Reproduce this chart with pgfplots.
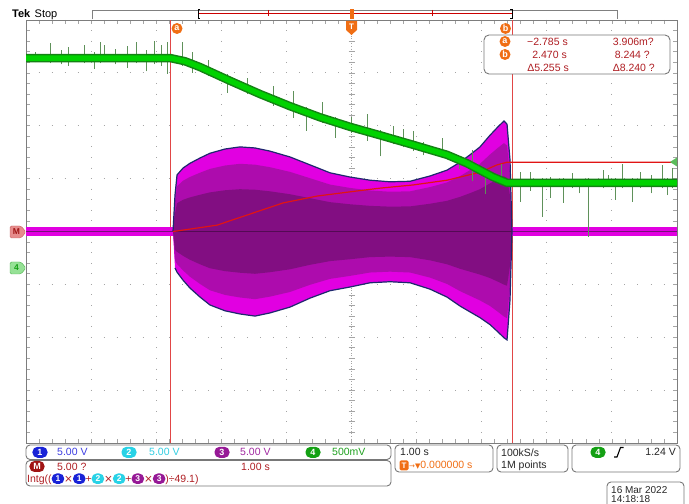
\documentclass[border=0pt]{standalone}
\usepackage{fontspec}
\setmainfont{Liberation Sans}
\newfontfamily\sym{DejaVu Sans}
\usepackage{pgfplots}
\pgfplotsset{compat=1.18}
\usepackage{pgfplotstable}

\definecolor{tekblue}{RGB}{25,35,215}
\definecolor{tekbluet}{RGB}{60,60,225}
\definecolor{tekcyan}{RGB}{40,210,230}
\definecolor{tekcyant}{RGB}{50,205,225}
\definecolor{tekpurple}{RGB}{150,25,150}
\definecolor{tekpurplet}{RGB}{160,40,160}
\definecolor{tekgreen}{RGB}{20,160,20}
\definecolor{tekgreent}{RGB}{30,160,30}
\definecolor{tekred}{RGB}{160,20,20}
\definecolor{tekredt}{RGB}{175,30,35}
\definecolor{tekorange}{RGB}{240,110,20}
\definecolor{gridc}{RGB}{165,165,165}
\definecolor{bordc}{RGB}{125,125,125}
\definecolor{boxc}{RGB}{120,120,120}
\definecolor{magbright}{RGB}{225,0,225}
\definecolor{magmid}{RGB}{165,15,165}
\definecolor{magdark}{RGB}{120,15,120}
\definecolor{envline}{RGB}{30,40,110}
\definecolor{gband}{RGB}{0,210,0}
\definecolor{gbandedge}{RGB}{20,130,20}
\definecolor{gspike}{RGB}{95,145,90}
\definecolor{mathred}{RGB}{225,20,20}
\definecolor{cursor}{RGB}{225,70,70}
\definecolor{mtagfill}{RGB}{230,140,140}
\definecolor{mtagdraw}{RGB}{200,100,100}
\definecolor{gtagfill}{RGB}{150,225,150}
\definecolor{gtagdraw}{RGB}{80,180,80}

\tikzset{pill/.style={fill=#1, text=white, rounded corners=5bp, minimum width=15bp,
  minimum height=11bp, inner sep=0pt, font=\fontsize{9bp}{9bp}\selectfont\bfseries},
  spill/.style={fill=#1, text=white, rounded corners=5bp, minimum width=12.5bp,
  minimum height=10.5bp, inner sep=0pt, font=\fontsize{8.5bp}{8.5bp}\selectfont\bfseries},
  txt/.style={inner sep=0pt, font=\fontsize{10.5bp}{12bp}\selectfont}}
\newcommand\ipill[2]{\tikz[baseline=-0.65ex]\node[spill=#1]{#2};}

% channel 3 burst envelope as a closed outline (time s, div): top forward, bottom back
\pgfplotstableread{
t y
-2.742 0
-2.711 0.69
-2.680 1.07
-2.588 1.20
-2.481 1.29
-2.327 1.39
-2.174 1.48
-1.943 1.56
-1.713 1.60
-1.482 1.58
-1.252 1.52
-0.945 1.41
-0.637 1.26
-0.330 1.11
-0.023 1.03
0.284 0.97
0.591 0.94
0.899 0.95
1.206 1.05
1.467 1.16
1.667 1.31
1.820 1.45
1.974 1.60
2.127 1.82
2.250 1.98
2.342 2.09
2.389 2.03
2.435 1.35
2.465 0
2.435 -1.29
2.389 -2.05
2.342 -2.01
2.250 -1.90
2.127 -1.76
1.974 -1.63
1.820 -1.52
1.667 -1.41
1.467 -1.24
1.206 -1.09
0.899 -0.97
0.591 -0.95
0.284 -0.97
-0.023 -1.05
-0.330 -1.12
-0.637 -1.26
-0.945 -1.43
-1.252 -1.54
-1.482 -1.60
-1.713 -1.56
-1.943 -1.50
-2.174 -1.39
-2.327 -1.24
-2.481 -1.07
-2.588 -0.92
-2.680 -0.77
-2.711 -0.69
}\envpoly

% channel 3 flat parts
\pgfplotstableread{
t y
-5 0
-2.742 0
nan nan
2.465 0
5 0
}\chthreeflat

% channel 4
\pgfplotstableread{
t y
-5 3.28
-2.785 3.28
-2.558 3.22
-2.327 3.11
-1.866 2.85
-1.406 2.60
-0.945 2.37
-0.484 2.16
-0.023 1.98
0.438 1.82
0.945 1.64
1.467 1.45
1.774 1.29
1.974 1.16
2.174 1.03
2.389 0.92
5 0.92
}\chfour

% channel 4 glitches: low and high end of each spike
\pgfplotstableread{
t y
-4.85 3.20
-4.85 3.40
nan nan
-4.63 3.18
-4.63 3.56
nan nan
-4.45 3.16
-4.45 3.43
nan nan
-4.35 3.13
-4.35 3.48
nan nan
-4.10 3.18
-4.10 3.53
nan nan
-3.95 3.08
-3.95 3.40
nan nan
-3.86 3.18
-3.86 3.58
nan nan
-3.80 3.20
-3.80 3.53
nan nan
-3.62 3.16
-3.62 3.46
nan nan
-3.45 3.10
-3.45 3.50
nan nan
-3.30 3.18
-3.30 3.58
nan nan
-3.15 3.03
-3.15 3.43
nan nan
-3.02 3.16
-3.02 3.60
nan nan
-2.92 3.13
-2.92 3.53
nan nan
-2.83 2.98
-2.83 3.58
nan nan
-2.60 3.13
-2.60 3.58
nan nan
-2.45 3.00
-2.45 3.40
nan nan
-2.20 2.94
-2.20 3.24
nan nan
-1.90 2.62
-1.90 2.97
nan nan
-1.60 2.60
-1.60 2.90
nan nan
-1.20 2.38
-1.20 2.75
nan nan
-0.90 2.15
-0.90 2.65
nan nan
-0.70 1.91
-0.70 2.36
nan nan
-0.45 2.05
-0.45 2.45
nan nan
-0.25 1.77
-0.25 2.17
nan nan
0.00 1.87
0.00 2.17
nan nan
0.25 1.72
0.25 2.22
nan nan
0.45 1.42
0.45 1.92
nan nan
0.65 1.65
0.65 2.00
nan nan
0.80 1.59
0.80 1.94
nan nan
0.95 1.52
0.95 1.91
nan nan
1.10 1.44
1.10 1.69
nan nan
1.40 1.39
1.40 1.77
nan nan
1.65 1.18
1.65 1.43
nan nan
1.85 0.95
1.85 1.55
nan nan
2.05 0.71
2.05 1.21
nan nan
2.30 0.87
2.30 1.27
nan nan
2.588 0.56
2.588 1.12
nan nan
2.75 0.77
2.75 1.12
nan nan
2.926 0.28
2.926 1.02
nan nan
3.049 0.64
3.049 1.04
nan nan
3.249 0.54
3.249 1.02
nan nan
3.40 0.82
3.40 1.10
nan nan
3.50 0.72
3.50 1.00
nan nan
3.633 -0.10
3.633 1.02
nan nan
3.863 0.82
3.863 1.17
nan nan
3.95 0.84
3.95 1.07
nan nan
4.048 0.60
4.048 1.02
nan nan
4.155 0.82
4.155 1.28
nan nan
4.309 0.56
4.309 1.02
nan nan
4.432 0.82
4.432 1.12
nan nan
4.60 0.72
4.60 1.07
nan nan
4.770 0.82
4.770 1.26
nan nan
4.846 0.69
4.846 1.02
nan nan
4.923 0.82
4.923 1.20
}\spikes

% math trace (integral)
\pgfplotstableread{
t y
-2.742 0
-2.680 0.01
-2.066 0.12
-1.559 0.33
-1.052 0.54
-0.530 0.67
-0.023 0.75
0.438 0.82
0.945 0.88
1.467 0.97
1.974 1.12
2.235 1.26
2.389 1.31
5 1.31
}\mathtr

\begin{document}
\begin{tikzpicture}
\useasboundingbox (0,0) rectangle (689bp,504bp);
% ---------- graticule (pixel coordinates, y from top)
\begin{scope}[x=1bp,y=-1bp,yshift=504bp]
\foreach \i in {1,2,3,4,6,7,8,9}{
  \draw[gridc, line width=0.9bp, dash pattern=on 0.9bp off 9.675bp, dash phase=0.45bp] ({26+65.1*\i},20) -- ({26+65.1*\i},443);}
\foreach \j in {1,2,3,5,6,7}{
  \draw[gridc, line width=0.9bp, dash pattern=on 0.9bp off 12.12bp, dash phase=0.45bp] (26,{20+52.875*\j}) -- (677,{20+52.875*\j});}
\draw[gridc, line width=0.8bp, dash pattern=on 0.8bp off 1.8bp] (351.55,20) -- (351.55,443);
\draw[gridc, line width=0.8bp, dash pattern=on 0.8bp off 1.8bp] (26,231.5) -- (677,231.5);
\foreach \k in {1,...,39}{\draw[gridc, line width=0.7bp] (348.5,{20+10.575*\k}) -- (354.6,{20+10.575*\k});}
\foreach \k in {1,...,49}{\draw[gridc, line width=0.7bp] ({26+13.02*\k},228.5) -- ({26+13.02*\k},234.5);}
\foreach \k in {1,...,49}{\draw[gridc, line width=0.7bp] ({26+13.02*\k},20) -- ++(0,4); \draw[gridc, line width=0.7bp] ({26+13.02*\k},443) -- ++(0,-4);}
\foreach \k in {1,...,39}{\draw[gridc, line width=0.7bp] (26,{20+10.575*\k}) -- ++(4,0); \draw[gridc, line width=0.7bp] (677,{20+10.575*\k}) -- ++(-4,0);}
\draw[bordc, line width=0.9bp] (26,20) rectangle (677,443);
\end{scope}

% ---------- traces
\begin{axis}[at={(26bp,61bp)}, anchor=south west, scale only axis,
  width=651bp, height=423bp, xmin=-5, xmax=5, ymin=-4, ymax=4,
  hide axis, clip=true]
% cursors
\addplot[cursor, line width=0.8bp] coordinates {(-2.785,-4) (-2.785,4)};
\addplot[cursor, line width=0.8bp] coordinates {(2.470,-4) (2.470,4)};
% ch3 flat
\addplot[magbright, line width=8.5bp, unbounded coords=jump] table[x=t,y=y]{\chthreeflat};
\addplot[magdark, line width=1bp, unbounded coords=jump] table[x=t,y=y]{\chthreeflat};
% ch3 burst
\addplot[fill=magbright, draw=none] table[x=t,y=y]{\envpoly} -- cycle;
\addplot[fill=magmid, draw=none, fill opacity=0.85] table[x=t,y expr=0.8*\thisrow{y}]{\envpoly} -- cycle;
\addplot[fill=magdark, draw=none, fill opacity=0.8] table[x=t,y expr=0.5*\thisrow{y}]{\envpoly} -- cycle;
\addplot[envline, line width=1.2bp] table[x=t,y=y]{\envpoly};
\addplot[magdark!70!black, line width=0.8bp] coordinates {(-2.742,0) (2.465,0)};
% math
\addplot[mathred, line width=1.2bp] table[x=t,y=y]{\mathtr};
% ch4 glitches and band
\addplot[gspike, line width=0.8bp, unbounded coords=jump] table[x=t,y=y]{\spikes};
\addplot[gbandedge, line width=8.5bp] table[x=t,y=y]{\chfour};
\addplot[gband, line width=5.5bp] table[x=t,y=y]{\chfour};
\end{axis}

% ---------- overlays
\begin{scope}[x=1bp,y=-1bp,yshift=504bp]
% top bar
\node[anchor=base west, inner sep=0pt, font=\fontsize{11bp}{12bp}\selectfont\bfseries] at (12,18) {Tek};
\node[anchor=base west, inner sep=0pt, font=\fontsize{11bp}{12bp}\selectfont] at (34.5,18) {Stop};
\draw[gray, line width=0.8bp] (92,19.5) -- (92,10) -- (617,10) -- (617,19.5);
\draw[red!80!black, line width=0.8bp] (198,13) -- (512,13);
\draw[red!80!black, line width=0.8bp] (268,10) -- (268,16) (432,10) -- (432,16);
\draw[black, line width=1bp] (200,10) -- (198,10) -- (198,19) -- (200,19);
\draw[black, line width=1bp] (510,10) -- (512,10) -- (512,19) -- (510,19);
\fill[tekorange] (349.5,9) rectangle (353.5,19);
% trigger marker
\fill[tekorange] (346,21) -- (357,21) -- (357,30) -- (351.5,35) -- (346,30) -- cycle;
\node[text=white, inner sep=0pt, font=\fontsize{8bp}{8bp}\selectfont\bfseries] at (351.5,27) {T};
% cursor labels
\node[circle, fill=tekorange, text=white, inner sep=0pt, minimum size=11bp, font=\fontsize{9bp}{9bp}\selectfont\bfseries] at (177,28.5) {a};
\node[circle, fill=tekorange, text=white, inner sep=0pt, minimum size=11bp, font=\fontsize{9bp}{9bp}\selectfont\bfseries] at (505.5,28.5) {b};
% readout box
\draw[boxc, line width=0.9bp, rounded corners=5bp, fill=white] (484,35) rectangle (670,74);
\node[circle, fill=tekorange, text=white, inner sep=0pt, minimum size=11bp, font=\fontsize{9bp}{9bp}\selectfont\bfseries] at (505,41.5) {a};
\node[circle, fill=tekorange, text=white, inner sep=0pt, minimum size=11bp, font=\fontsize{9bp}{9bp}\selectfont\bfseries] at (505,54.5) {b};
\node[txt, anchor=east, text=tekredt] at (568,41.5) {−2.785 s};
\node[txt, anchor=east, text=tekredt] at (567,54.5) {2.470 s};
\node[txt, anchor=east, text=tekredt] at (569,67.5) {Δ5.255 s};
\node[txt, anchor=east, text=tekredt] at (654,41.5) {3.906m?};
\node[txt, anchor=east, text=tekredt] at (650,54.5) {8.244 ?};
\node[txt, anchor=east, text=tekredt] at (655,67.5) {Δ8.240 ?};
% left tags
\draw[fill=mtagfill, draw=mtagdraw, rounded corners=1.5bp] (10,226) -- (21,226) -- (26,232) -- (21,238) -- (10,238) -- cycle;
\node[inner sep=0pt, text=tekred, font=\fontsize{8.5bp}{9bp}\selectfont\bfseries] at (16.5,232) {M};
\draw[fill=gtagfill, draw=gtagdraw, rounded corners=1.5bp] (10,262) -- (21,262) -- (26,268) -- (21,274) -- (10,274) -- cycle;
\node[inner sep=0pt, text=tekgreen, font=\fontsize{8.5bp}{9bp}\selectfont\bfseries] at (16.5,268) {4};
% right trigger level marker
\fill[tekgreen!70!white] (670,162) -- (677,157.5) -- (677,166.5) -- cycle;
% status boxes
\draw[boxc, line width=0.9bp, rounded corners=4bp] (26,445) rectangle (391,459.5);
\draw[boxc, line width=0.9bp, rounded corners=4bp] (26,460.5) rectangle (391,486);
\draw[boxc, line width=0.9bp, rounded corners=4bp] (395,445) rectangle (493,472);
\draw[boxc, line width=0.9bp, rounded corners=4bp] (497,445) rectangle (568,472);
\draw[boxc, line width=0.9bp, rounded corners=4bp] (572,445) rectangle (680,472);
\draw[boxc, line width=0.9bp, rounded corners=4bp] (607,482) rectangle (684,515);
\node[pill=tekblue] at (40,452.3) {1};
\node[txt, anchor=west, text=tekbluet] at (57,452.3) {5.00 V};
\node[pill=tekcyan] at (129,452.3) {2};
\node[txt, anchor=west, text=tekcyant] at (149,452.3) {5.00 V};
\node[pill=tekpurple] at (222,452.3) {3};
\node[txt, anchor=west, text=tekpurplet] at (240,452.3) {5.00 V};
\node[pill=tekgreen] at (313,452.3) {4};
\node[txt, anchor=west, text=tekgreent] at (332,452.3) {500mV};
\node[pill=tekred] at (37,466.5) {M};
\node[txt, anchor=west, text=tekredt] at (57,466.5) {5.00 ?};
\node[txt, anchor=west, text=tekredt] at (241,466.5) {1.00 s};
\node[txt, anchor=west, text=tekredt] at (27,479) {Intg((\ipill{tekblue}{1}{\sym×}\ipill{tekblue}{1}+\ipill{tekcyan}{2}{\sym×}\ipill{tekcyan}{2}+\ipill{tekpurple}{3}{\sym×}\ipill{tekpurple}{3})÷49.1)};
\node[txt, anchor=west, text=black!85] at (400,452.3) {1.00 s};
\node[fill=tekorange, text=white, inner sep=0pt, minimum width=9bp, minimum height=10bp, rounded corners=1.5bp, font=\fontsize{8bp}{8bp}\selectfont\bfseries] at (404,465.5) {T};
\node[txt, anchor=west, text=tekorange] at (409,465.5) {{\sym\fontsize{7bp}{8bp}\selectfont →▼}0.000000 s};
\node[txt, anchor=west, text=black!85] at (501,452.3) {100kS/s};
\node[txt, anchor=west, text=black!85] at (501,465.5) {1M points};
\node[pill=tekgreen] at (598,452.3) {4};
\draw[black, line width=1.1bp] (614,457) -- (617,457) -- (620.5,447.5) -- (623.5,447.5);
\node[txt, anchor=east, text=black!85] at (676,452.3) {1.24 V};
\node[txt, anchor=west, text=black!85, font=\fontsize{10bp}{11bp}\selectfont] at (611,490) {16 Mar 2022};
\node[txt, anchor=west, text=black!85, font=\fontsize{10bp}{11bp}\selectfont] at (611,499.5) {14:18:18};
\end{scope}
\end{tikzpicture}
\end{document}
